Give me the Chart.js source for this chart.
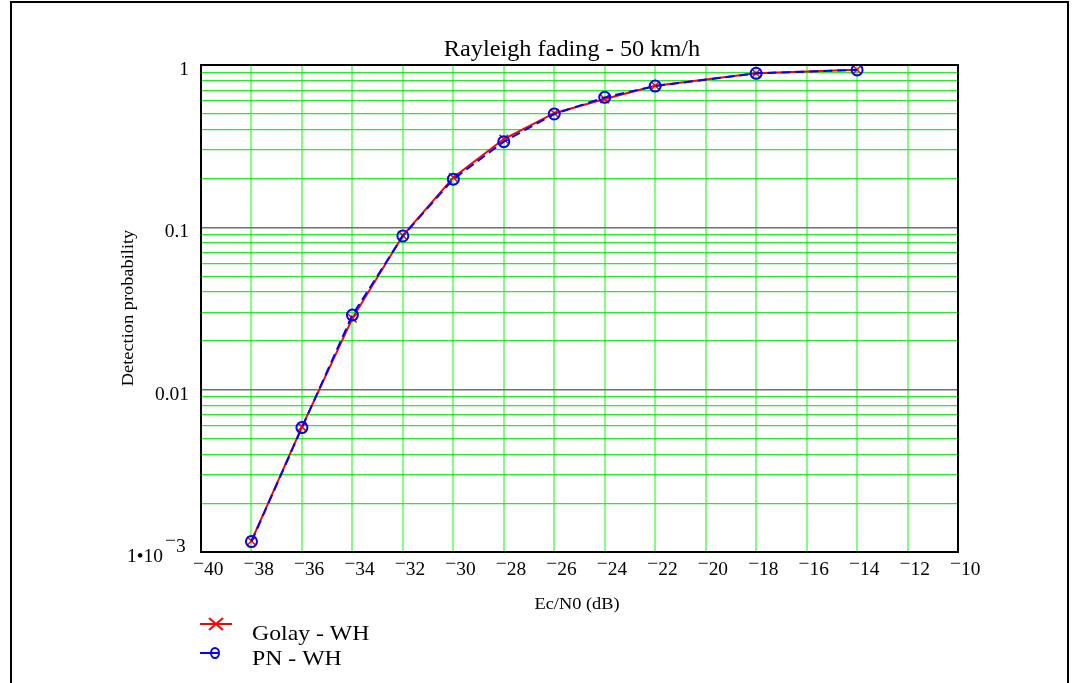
<!DOCTYPE html>
<html>
<head>
<meta charset="utf-8">
<script src="https://cdn.jsdelivr.net/npm/chart.js@4"></script>
<style>
  html, body { margin: 0; padding: 0; background: #fff; }
  canvas { display: block; }
</style>
</head>
<body>
<canvas id="chart" width="1072" height="683"></canvas>
<script>
// Ec/N0 in dB, and detection probability
const ecn0 = [-38, -36, -34, -32, -30, -28, -26, -24, -22, -18, -14]
const golayWH = [0.00117, 0.0059, 0.0275, 0.089, 0.203, 0.35, 0.505, 0.618, 0.745, 0.89, 0.935]
const pnWH = [0.00116, 0.00584, 0.0288, 0.0885, 0.198, 0.337, 0.499, 0.632, 0.742, 0.889, 0.933]

const xTicks = [-40, -38, -36, -34, -32, -30, -28, -26, -24, -22, -20, -18, -16, -14, -12, -10]
const yDecades = [0.001, 0.01, 0.1, 1]
const yLabels = ["1•10", "0.01", "0.1", "1"]

const FONT = "'Liberation Serif', 'Times New Roman', serif"
const STRETCH = 1.08 // the picture's text is a bit wide

function text(ctx, str, x, y, size, align) {
  ctx.save()
  ctx.font = size + "px " + FONT
  ctx.fillStyle = "#000"
  ctx.textBaseline = "alphabetic"
  const w = ctx.measureText(str).width * STRETCH
  let left = x
  if (align === "center") left = x - w / 2
  if (align === "right") left = x - w
  ctx.translate(left, y)
  ctx.scale(STRETCH, 1)
  ctx.fillText(str, 0, 0)
  ctx.restore()
  return w
}

// number with the raised minus the picture uses
function signed(ctx, v, x, y, size) {
  let w = 0
  if (v < 0) w = text(ctx, "−", x, y - 6, size, "left")
  w += text(ctx, String(Math.abs(v)), x + w, y, size, "left")
  return w
}

const pts = (ys) => ecn0.map((x, i) => ({ x: x, y: ys[i] }))

const decorations = {
  id: "decorations",
  beforeDraw(chart) {
    const ctx = chart.ctx
    ctx.save()
    ctx.fillStyle = "#fff"
    ctx.fillRect(0, 0, chart.width, chart.height)
    ctx.restore()
  },
  afterDraw(chart) {
    const ctx = chart.ctx
    const a = chart.chartArea
    const xs = chart.scales.x
    const ys = chart.scales.y

    // page frame
    ctx.save()
    ctx.strokeStyle = "#000"
    ctx.lineWidth = 2
    ctx.beginPath()
    ctx.moveTo(11, 683)
    ctx.lineTo(11, 2)
    ctx.lineTo(1068, 2)
    ctx.lineTo(1068, 683)
    ctx.stroke()

    // plot frame
    ctx.strokeRect(a.left, a.top, a.right - a.left, a.bottom - a.top)
    ctx.restore()

    // x tick labels
    xTicks.forEach(v => {
      const px = xs.getPixelForValue(v)
      signed(ctx, v, px - 8, 575, 18)
    })

    // y tick labels
    yDecades.forEach((v, i) => {
      const py = ys.getPixelForValue(v)
      if (v === 0.001) {
        text(ctx, yLabels[i], 163, py + 10, 18, "right")
        signed(ctx, -3, 165, py, 18)
      } else {
        text(ctx, yLabels[i], 189, py + 10, 18, "right")
      }
    })

    // titles
    text(ctx, "Rayleigh fading - 50 km/h", 572, 56, 22.5, "center")
    text(ctx, "Ec/N0 (dB)", 577, 609, 17, "center")
    ctx.save()
    ctx.translate(133, 308)
    ctx.rotate(-Math.PI / 2)
    text(ctx, "Detection probability", 0, 0, 17, "center")
    ctx.restore()

    // legend
    const ds = chart.data.datasets
    ctx.save()
    ctx.lineWidth = 2
    ctx.strokeStyle = ds[0].borderColor
    ctx.beginPath()
    ctx.moveTo(200, 624); ctx.lineTo(232, 624)
    ctx.moveTo(209, 618); ctx.lineTo(223, 630)
    ctx.moveTo(223, 618); ctx.lineTo(209, 630)
    ctx.stroke()
    ctx.strokeStyle = ds[1].borderColor
    ctx.beginPath()
    ctx.moveTo(200, 653); ctx.lineTo(211, 653)
    ctx.stroke()
    ctx.beginPath()
    ctx.ellipse(215, 653, 4, 5, 0, 0, Math.PI * 2)
    ctx.moveTo(211, 653); ctx.lineTo(219, 653)
    ctx.stroke()
    ctx.restore()
    text(ctx, ds[0].label, 252, 640, 22, "left")
    text(ctx, ds[1].label, 252, 665, 22, "left")
  }
}

new Chart(document.getElementById("chart"), {
  type: "scatter",
  data: {
    datasets: [
      {
        label: "Golay - WH",
        data: pts(golayWH),
        showLine: true,
        borderColor: "#ff0000",
        backgroundColor: "#ff0000",
        borderWidth: 2,
        pointStyle: "crossRot",
        pointRadius: 6,
        pointBorderWidth: 1.5,
        order: 2
      },
      {
        label: "PN - WH",
        data: pts(pnWH),
        showLine: true,
        borderColor: "#0000ff",
        backgroundColor: "rgba(0,0,0,0)",
        borderWidth: 2,
        borderDash: [9, 5],
        pointStyle: "circle",
        pointRadius: 5.5,
        pointBorderWidth: 2,
        order: 1
      }
    ]
  },
  options: {
    responsive: false,
    animation: false,
    devicePixelRatio: 1,
    layout: { padding: { left: 201, right: 114, top: 65, bottom: 131 } },
    plugins: { legend: { display: false }, tooltip: { enabled: false }, title: { display: false } },
    scales: {
      x: {
        type: "linear",
        min: -40,
        max: -10,
        afterBuildTicks(scale) {
          scale.ticks = xTicks.map(v => ({ value: v }))
        },
        ticks: { display: false },
        grid: { color: "#80ff80", lineWidth: 2, drawTicks: false },
        border: { display: true, color: "#000", width: 2 }
      },
      y: {
        type: "logarithmic",
        min: 0.001,
        max: 1,
        afterBuildTicks(scale) {
          const t = []
          yDecades.forEach(d => {
            if (d === 1) { t.push({ value: 1 }); return }
            for (let m = 1; m < 10; m++) t.push({ value: d * m })
          })
          scale.ticks = t
        },
        ticks: { display: false },
        grid: {
          drawTicks: false,
          color: c => yDecades.some(d => Math.abs(c.tick.value - d) < d * 1e-6) ? "#707070" : "#22ee22",
          lineWidth: c => yDecades.some(d => Math.abs(c.tick.value - d) < d * 1e-6) ? 1.5 : 1.2
        },
        border: { display: true, color: "#000", width: 2 }
      }
    }
  },
  plugins: [decorations]
})
</script>
</body>
</html>
